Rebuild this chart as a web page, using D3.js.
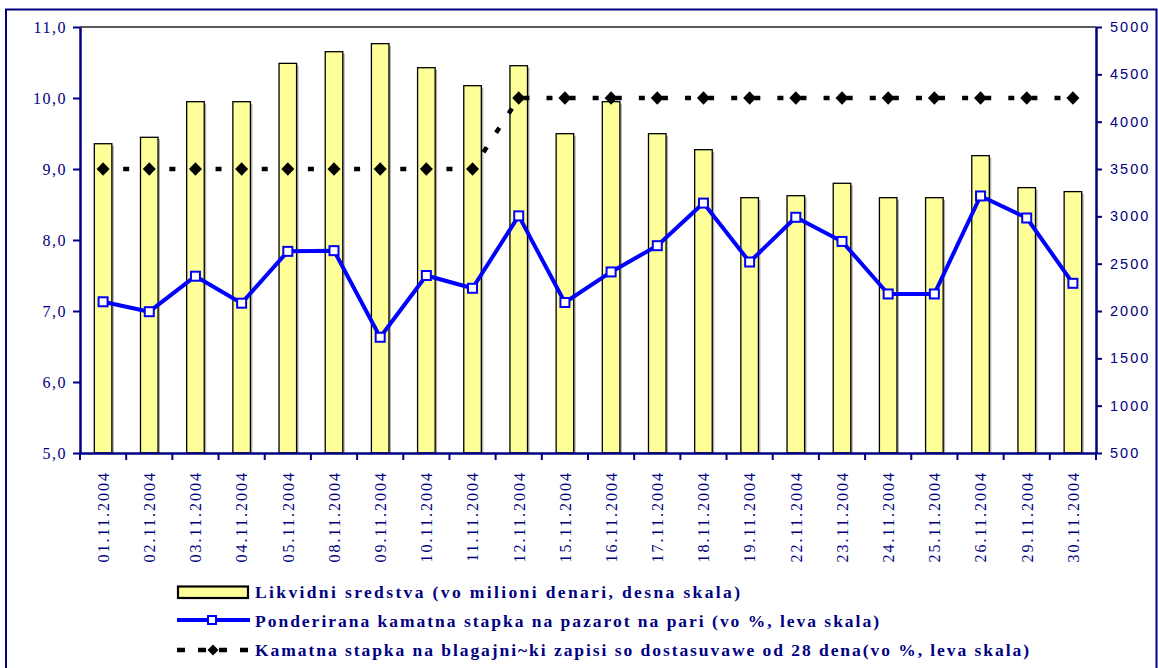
<!DOCTYPE html>
<html><head><meta charset="utf-8">
<script src="https://cdn.jsdelivr.net/npm/d3@7"></script>
<style>html,body{margin:0;padding:0;background:#fff;}svg{display:block;}</style>
</head><body>
<svg id="chart" width="1158" height="668"></svg>
<script>
const dates = ["01.11.2004","02.11.2004","03.11.2004","04.11.2004","05.11.2004","08.11.2004","09.11.2004","10.11.2004","11.11.2004","12.11.2004","15.11.2004","16.11.2004","17.11.2004","18.11.2004","19.11.2004","22.11.2004","23.11.2004","24.11.2004","25.11.2004","26.11.2004","29.11.2004","30.11.2004"];
const liquidity = [3767,3835,4211,4211,4616,4739,4824,4570,4380,4591,3873,4211,3873,3704,3197,3218,3349,3197,3197,3641,3303,3261];
const moneyRate = [7.13,6.99,7.49,7.11,7.84,7.85,6.63,7.50,7.32,8.34,7.12,7.55,7.92,8.52,7.69,8.32,7.98,7.24,7.24,8.62,8.31,7.39];
const billRate = [9.0,9.0,9.0,9.0,9.0,9.0,9.0,9.0,9.0,10.0,10.0,10.0,10.0,10.0,10.0,10.0,10.0,10.0,10.0,10.0,10.0,10.0];
const leftTicks = [5,6,7,8,9,10,11];
const rightTicks = [500,1000,1500,2000,2500,3000,3500,4000,4500,5000];
const legendLabels = [
  "Likvidni sredstva (vo milioni denari, desna skala)",
  "Ponderirana kamatna stapka na pazarot na pari  (vo %, leva skala)",
  "Kamatna stapka na blagajni~ki zapisi so dostasuvawe od 28 dena(vo %, leva skala)"
];

const NAVY = "#000080";
const svg = d3.select("#chart");
const L = 80, R = 1096, T = 27, B = 453;

// outer border
svg.append("rect").attr("x",6).attr("y",9.5).attr("width",1150.5).attr("height",670)
  .attr("fill","none").attr("stroke",NAVY).attr("stroke-width",2);

const x = d3.scaleBand().domain(dates).range([L,R]);
const yL = d3.scaleLinear().domain([5,11]).range([B,T]);
const yR = d3.scaleLinear().domain([500,5000]).range([B,T]);
const bw = x.bandwidth();
const barW = bw*0.38;
const cx = d => x(d) + bw/2;

// top frame line
svg.append("line").attr("x1",L).attr("x2",R).attr("y1",T).attr("y2",T)
  .attr("stroke","#222").attr("stroke-width",1.5);

// bars with shadow
const bars = svg.append("g");
bars.selectAll("rect.sh").data(dates).join("rect").attr("class","sh")
  .attr("x",(d)=>cx(d)-barW/2+2).attr("y",(d,i)=>yR(liquidity[i])+2)
  .attr("width",barW).attr("height",(d,i)=>B-yR(liquidity[i])-2)
  .attr("fill","#b0b0b0");
bars.selectAll("rect.bar").data(dates).join("rect").attr("class","bar")
  .attr("x",(d)=>cx(d)-barW/2).attr("y",(d,i)=>yR(liquidity[i]))
  .attr("width",barW).attr("height",(d,i)=>B-yR(liquidity[i]))
  .attr("fill","#ffff99").attr("stroke","#000").attr("stroke-width",1.3);

// left axis
const gL = svg.append("g").attr("transform",`translate(${L},0)`)
  .call(d3.axisLeft(yL).tickValues(leftTicks).tickSize(7).tickSizeOuter(0)
    .tickFormat(d=>d3.format(".1f")(d).replace(".",",")));
gL.select(".domain").attr("stroke",NAVY).attr("stroke-width",2.5);
gL.selectAll(".tick line").attr("stroke",NAVY).attr("stroke-width",2);
gL.selectAll(".tick text").attr("fill",NAVY).attr("font-family","'Liberation Serif','Times New Roman',serif")
  .attr("font-size",16).attr("letter-spacing","1.5px").attr("x",-13);

// right axis
const gR = svg.append("g").attr("transform",`translate(${R},0)`)
  .call(d3.axisRight(yR).tickValues(rightTicks).tickSize(6).tickSizeOuter(0).tickFormat(d3.format("d")));
gR.select(".domain").attr("stroke",NAVY).attr("stroke-width",2.5);
gR.selectAll(".tick line").attr("stroke",NAVY).attr("stroke-width",2);
gR.selectAll(".tick text").attr("fill",NAVY).attr("font-family","'Liberation Sans',Arial,sans-serif")
  .attr("font-size",14.5).attr("letter-spacing","2px").attr("x",14);

// bottom axis
const gB = svg.append("g").attr("transform",`translate(0,${B})`)
  .call(d3.axisBottom(x).tickSize(0).tickSizeOuter(0).tickFormat(""));
gB.select(".domain").attr("stroke",NAVY).attr("stroke-width",2.5);
gB.selectAll(".tick").remove();
const boundaries = dates.map(d=>x(d)).concat([R]);
gB.selectAll("line.bt").data(boundaries).join("line").attr("class","bt")
  .attr("x1",d=>d).attr("x2",d=>d).attr("y1",0).attr("y2",7)
  .attr("stroke",NAVY).attr("stroke-width",2);
svg.append("g").selectAll("text").data(dates).join("text")
  .attr("transform",d=>`translate(${cx(d)+1},471) rotate(-90)`)
  .attr("text-anchor","end").attr("dy","0.3em")
  .attr("fill",NAVY).attr("font-family","'Liberation Serif','Times New Roman',serif")
  .attr("font-size",16).attr("letter-spacing","2px").text(d=>d);

// dotted bill rate line
const lineBill = d3.line().x((d,i)=>cx(dates[i])).y(d=>yL(d));
svg.append("path").datum(billRate).attr("d",lineBill)
  .attr("fill","none").attr("stroke","#000").attr("stroke-width",4.5)
  .attr("stroke-dasharray",`6,${bw/2-6}`).attr("stroke-dashoffset",3);
const diamond = (w,h) => { const p = d3.path(); p.moveTo(0,-h/2); p.lineTo(w/2,0); p.lineTo(0,h/2); p.lineTo(-w/2,0); p.closePath(); return p.toString(); };
svg.append("g").selectAll("path").data(billRate).join("path")
  .attr("transform",(d,i)=>`translate(${cx(dates[i])},${yL(d)})`)
  .attr("d",diamond(13,13.5)).attr("fill","#000");

// blue money market line
const lineMoney = d3.line().x((d,i)=>cx(dates[i])).y(d=>yL(d));
svg.append("path").datum(moneyRate).attr("d",lineMoney)
  .attr("fill","none").attr("stroke","#0000ff").attr("stroke-width",4).attr("stroke-linejoin","round");
svg.append("g").selectAll("rect").data(moneyRate).join("rect")
  .attr("x",(d,i)=>cx(dates[i])-4.5).attr("y",d=>yL(d)-4.5)
  .attr("width",9).attr("height",9).attr("fill","#fff").attr("stroke","#0000ff").attr("stroke-width",2);

// legend
const lg = svg.append("g");
const rowsY = [592, 620, 650];
const baseY = [598, 626.5, 656];
const textEnds = [740, 879, 1029];
const tx = 255;
lg.append("rect").attr("x",178).attr("y",586.5).attr("width",70).attr("height",11.5)
  .attr("fill","#ffff99").attr("stroke","#000").attr("stroke-width",2.2);
lg.append("line").attr("x1",177).attr("x2",250).attr("y1",rowsY[1]).attr("y2",rowsY[1])
  .attr("stroke","#0000ff").attr("stroke-width",4);
lg.append("rect").attr("x",208).attr("y",rowsY[1]-4).attr("width",8).attr("height",8)
  .attr("fill","#fff").attr("stroke","#0000ff").attr("stroke-width",2);
lg.append("line").attr("x1",177).attr("x2",249).attr("y1",rowsY[2]).attr("y2",rowsY[2])
  .attr("stroke","#000").attr("stroke-width",4.5).attr("stroke-dasharray","8,13");
lg.append("path").attr("transform",`translate(213,${rowsY[2]})`).attr("d",diamond(11,11)).attr("fill","#000");
lg.selectAll("text").data(legendLabels).join("text")
  .attr("x",tx).attr("y",(d,i)=>baseY[i])
  .attr("textLength",(d,i)=>textEnds[i]-tx).attr("lengthAdjust","spacing")
  .attr("fill",NAVY).attr("font-family","'Liberation Serif','Times New Roman',serif")
  .attr("font-weight","bold").attr("font-size",17.5).text(d=>d);
</script>
</body></html>
